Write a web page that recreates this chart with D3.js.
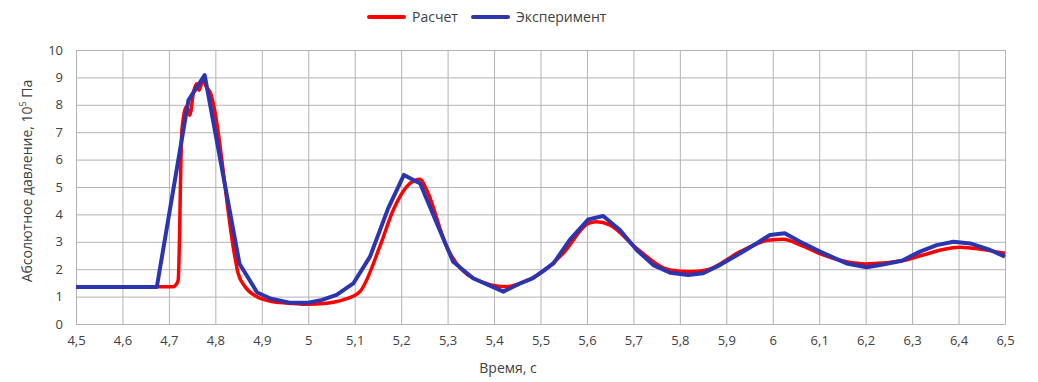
<!DOCTYPE html>
<html>
<head>
<meta charset="utf-8">
<script src="https://cdn.jsdelivr.net/npm/d3@7"></script>
<style>
  html, body { margin: 0; padding: 0; background: #fff; }
  svg { display: block; }
  text { font-family: "Open Sans", "Noto Sans", sans-serif; }
</style>
</head>
<body>
<svg id="chart" width="1038" height="382"></svg>
<script>
// Time axis (s) and pressure values (10^5 Pa)
const calcTime = [4.5, 4.709, 4.716, 4.72, 4.728, 4.738, 4.745, 4.753, 4.76, 4.765, 4.773, 4.781, 4.788,
  4.842, 4.849, 4.864, 4.889, 4.925, 4.968, 4.997, 5.04, 5.075, 5.111, 5.154, 5.183, 5.219, 5.241, 5.255,
  5.298, 5.355, 5.427, 5.456, 5.5, 5.55, 5.603, 5.62, 5.65, 5.707, 5.779, 5.822, 5.86, 5.93, 5.994, 6.023,
  6.06, 6.1, 6.159, 6.2, 6.278, 6.324, 6.367, 6.403, 6.432, 6.5];
const calcPressure = [1.36, 1.36, 1.45, 1.6, 7.08, 7.93, 7.62, 8.47, 8.77, 8.53, 8.89, 8.65, 8.48,
  2.46, 1.85, 1.36, 1.0, 0.81, 0.75, 0.72, 0.76, 0.88, 1.18, 2.82, 4.16, 5.13, 5.28, 4.89,
  2.82, 1.67, 1.36, 1.48, 1.85, 2.6, 3.67, 3.73, 3.61, 2.76, 1.97, 1.91, 1.98, 2.64, 3.07, 3.09,
  2.88, 2.58, 2.27, 2.19, 2.31, 2.52, 2.72, 2.8, 2.76, 2.58];

const expTime = [4.5, 4.674, 4.742, 4.777, 4.852, 4.89, 4.92, 4.96, 5.0, 5.03, 5.061, 5.097, 5.133, 5.172,
  5.206, 5.241, 5.277, 5.312, 5.355, 5.42, 5.456, 5.484, 5.528, 5.563, 5.603, 5.635, 5.671, 5.707, 5.743,
  5.779, 5.818, 5.85, 5.886, 5.93, 5.965, 5.994, 6.026, 6.059, 6.102, 6.159, 6.202, 6.231, 6.278, 6.317,
  6.353, 6.389, 6.425, 6.468, 6.5];
const expPressure = [1.35, 1.35, 8.16, 9.08, 2.2, 1.15, 0.92, 0.78, 0.78, 0.88, 1.06, 1.48, 2.46, 4.22,
  5.44, 5.13, 3.67, 2.27, 1.67, 1.18, 1.48, 1.67, 2.21, 3.07, 3.82, 3.94, 3.43, 2.7, 2.15,
  1.87, 1.79, 1.85, 2.15, 2.58, 2.94, 3.25, 3.31, 3.0, 2.64, 2.21, 2.07, 2.15, 2.31, 2.64,
  2.88, 3.0, 2.94, 2.7, 2.46];

const xTicks = [4.5, 4.6, 4.7, 4.8, 4.9, 5.0, 5.1, 5.2, 5.3, 5.4, 5.5, 5.6, 5.7, 5.8, 5.9, 6.0, 6.1, 6.2, 6.3, 6.4, 6.5];
const yTicks = [0, 1, 2, 3, 4, 5, 6, 7, 8, 9, 10];
const seriesNames = ["Расчет", "Эксперимент"];
const seriesColors = ["#ff0000", "#2b35ad"];

const svg = d3.select("#chart");
const plotLeft = 76, plotRight = 1005, plotTop = 50, plotBottom = 324;

const x = d3.scaleLinear().domain([4.5, 6.5]).range([plotLeft, plotRight]);
const y = d3.scaleLinear().domain([0, 10]).range([plotBottom, plotTop]);
const fmt = d => String(+d.toFixed(1)).replace(".", ",");

const gridColor = "#b3b3b3";

// Vertical grid + x labels
const gx = svg.append("g")
  .attr("transform", `translate(0,${plotBottom})`)
  .call(d3.axisBottom(x).tickValues(xTicks).tickSize(-(plotBottom - plotTop)).tickPadding(12).tickFormat(fmt));
gx.select(".domain").attr("stroke", gridColor);
gx.selectAll(".tick line").attr("stroke", gridColor);
gx.selectAll(".tick text").attr("fill", "#404040").style("font-size", "13px");

// Horizontal grid + y labels
const gy = svg.append("g")
  .attr("transform", `translate(${plotLeft},0)`)
  .call(d3.axisLeft(y).tickValues(yTicks).tickSize(-(plotRight - plotLeft)).tickPadding(13).tickFormat(d => d));
gy.select(".domain").attr("stroke", gridColor);
gy.selectAll(".tick line").attr("stroke", gridColor);
gy.selectAll(".tick text").attr("fill", "#404040").style("font-size", "13px");

// Series lines
const calcData = calcTime.map((t, i) => [t, calcPressure[i]]);
const expData = expTime.map((t, i) => [t, expPressure[i]]);

svg.append("path")
  .datum(calcData)
  .attr("fill", "none")
  .attr("stroke", seriesColors[0])
  .attr("stroke-width", 3.5)
  .attr("stroke-linejoin", "round")
  .attr("d", d3.line().x(d => x(d[0])).y(d => y(d[1])).curve(d3.curveMonotoneX));

svg.append("path")
  .datum(expData)
  .attr("fill", "none")
  .attr("stroke", seriesColors[1])
  .attr("stroke-width", 4)
  .attr("stroke-linejoin", "round")
  .attr("d", d3.line().x(d => x(d[0])).y(d => y(d[1])));

// Axis titles
svg.append("text")
  .attr("x", 508).attr("y", 373)
  .attr("text-anchor", "middle")
  .attr("fill", "#404040")
  .style("font-size", "14px")
  .text("Время, с");

const yt = svg.append("text")
  .attr("transform", "translate(32,181) rotate(-90)")
  .attr("text-anchor", "middle")
  .attr("fill", "#404040")
  .style("font-size", "14px");
yt.append("tspan").text("Абсолютное давление, 10");
yt.append("tspan").attr("baseline-shift", "super").style("font-size", "9px").text("5");
yt.append("tspan").text(" Па");

// Legend
const legendX = [369, 473];
const leg = svg.append("g");
seriesNames.forEach((name, i) => {
  leg.append("line")
    .attr("x1", legendX[i]).attr("x2", legendX[i] + 35)
    .attr("y1", 17).attr("y2", 17)
    .attr("stroke", seriesColors[i])
    .attr("stroke-width", 4)
    .attr("stroke-linecap", "round");
  leg.append("text")
    .attr("x", legendX[i] + 43).attr("y", 22)
    .attr("fill", "#404040")
    .style("font-size", "14px")
    .text(name);
});
</script>
</body>
</html>
